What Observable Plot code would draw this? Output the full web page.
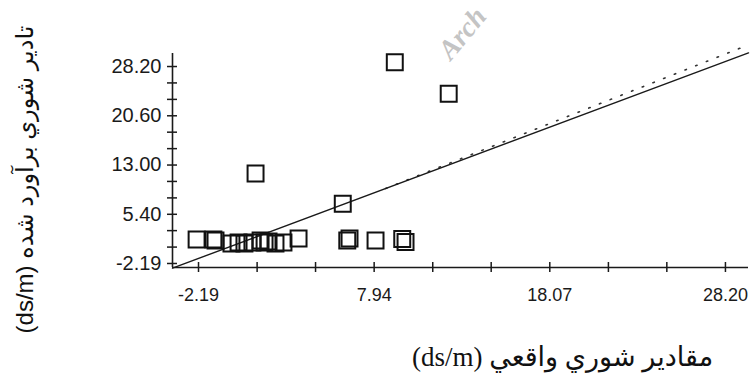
<!DOCTYPE html>
<html>
<head>
<meta charset="utf-8">
<script src="https://cdn.jsdelivr.net/npm/d3@7"></script>
<script src="https://cdn.jsdelivr.net/npm/@observablehq/plot@0.6"></script>
<style>
  html, body { margin: 0; padding: 0; background: #fff; }
  #chart svg { display: block; }
</style>
</head>
<body>
<div id="chart"></div>
<script>
// Measured (x) vs estimated (y) salinity, ds/m
const measured  = [9.13, 12.24, 1.10, 6.13, 6.39, 6.52, 8.02, 9.56, 9.75,
                   -2.30, -1.33, -1.21, -0.29, 0.12, 0.46, 0.92, 1.39, 1.62, 1.85, 2.25, 2.71, 3.58];
const estimated = [28.87, 23.99, 11.70, 7.02, 1.36, 1.67, 1.36, 1.59, 1.13,
                   1.51, 1.51, 1.36, 0.90, 1.05, 0.90, 1.05, 1.36, 1.05, 1.21, 0.90, 1.05, 1.67];

// Axis ticks
const xTickLabels = [-2.19, 7.94, 18.07, 28.20];
const yTickLabels = [-2.19, 5.40, 13.00, 20.60, 28.20];
const xTicksAll = [-2.19, 1.19, 4.56, 7.94, 11.32, 14.69, 18.07, 21.45, 24.82, 28.20];
const yTicksAll = [-2.19, 0.34, 2.88, 5.40, 7.93, 10.47, 13.00, 15.53, 18.07, 20.60, 23.13, 25.67, 28.20];

// Fitted lines: [intercept, slope]
const fitSolid  = [0.78, 1.0];
const fitDotted = [0.27, 1.059];
const dottedStartX = 8.6;

const xDomain = [-3.69, 29.53];
const yDomain = [-2.81, 30.21];

const xTitle = "مقادير شوري واقعي (ds/m)";
const yTitle = "تادير شوري برآورد شده (ds/m)";
const watermark = "Arch";

const points = measured.map((x, i) => ({x, y: estimated[i]}));
const solidLine = xDomain.map(x => ({x, y: fitSolid[0] + fitSolid[1] * x}));
const dottedLine = [dottedStartX, xDomain[1]].map(x => ({x, y: fitDotted[0] + fitDotted[1] * x}));

const W = 752, H = 379;
const mL = 172, mR = 4, mT = 53, mB = 112;
const frameW = W - mL - mR, frameH = H - mT - mB;

const plot = Plot.plot({
  width: W,
  height: H,
  marginLeft: mL,
  marginRight: mR,
  marginTop: mT,
  marginBottom: mB,
  x: {domain: xDomain},
  y: {domain: yDomain},
  style: {fontFamily: "'Liberation Sans', Arial, sans-serif", fontSize: "18px", color: "#1a1a1a", background: "#fff"},
  marks: [
    // watermark
    Plot.text([watermark], {frameAnchor: "top-left", text: d => d, dx: 263, dy: -5, rotate: -50,
      textAnchor: "start", fontSize: 28, fontWeight: "bold", fontStyle: "italic",
      fontFamily: "'Liberation Serif', serif", fill: "#c4c4c4"}),
    // axis lines
    Plot.ruleY([yDomain[0]], {stroke: "#1a1a1a", strokeWidth: 1.6}),
    Plot.ruleX([xDomain[0]], {stroke: "#1a1a1a", strokeWidth: 1.6}),
    // cross ticks
    Plot.tickX(xTicksAll, {x: d => d, insetTop: frameH - 5, insetBottom: -5, stroke: "#1a1a1a", strokeWidth: 1.5}),
    Plot.tickY(yTicksAll, {y: d => d, insetRight: frameW - 5, insetLeft: -5, stroke: "#1a1a1a", strokeWidth: 1.5}),
    // tick labels
    Plot.axisX({ticks: xTickLabels, tickSize: 0, tickPadding: 21, tickFormat: d => d.toFixed(2), label: null, fontSize: 18}),
    Plot.axisY({ticks: yTickLabels, tickSize: 0, tickPadding: 11, tickFormat: d => d.toFixed(2), label: null, fontSize: 20}),
    // lines
    Plot.line(dottedLine, {x: "x", y: "y", stroke: "#333", strokeWidth: 1.6, strokeDasharray: "1.5 10", strokeLinecap: "round"}),
    Plot.line(solidLine, {x: "x", y: "y", stroke: "#1a1a1a", strokeWidth: 1.4}),
    // squares
    Plot.dot(points, {x: "x", y: "y", symbol: "square", r: 9, stroke: "#111", strokeWidth: 2, fill: "none"}),
    // axis titles
    Plot.text([xTitle], {frameAnchor: "bottom", text: d => d, dx: 102, dy: 90, fontSize: 27,
      textAnchor: "middle", lineAnchor: "middle",
      fontFamily: "'Liberation Serif', 'DejaVu Sans', serif", fill: "#111"}),
    Plot.text([yTitle], {frameAnchor: "left", text: d => d, rotate: -90, dx: -147, dy: 19, fontSize: 24,
      textAnchor: "middle", lineAnchor: "middle",
      fontFamily: "'Liberation Sans', 'DejaVu Sans', sans-serif", fill: "#111"})
  ]
});

d3.select(plot).selectAll("text")
  .filter(function() { return /[\u0600-\u06FF]/.test(this.textContent); })
  .attr("direction", "rtl");

document.getElementById("chart").appendChild(plot);
</script>
</body>
</html>
